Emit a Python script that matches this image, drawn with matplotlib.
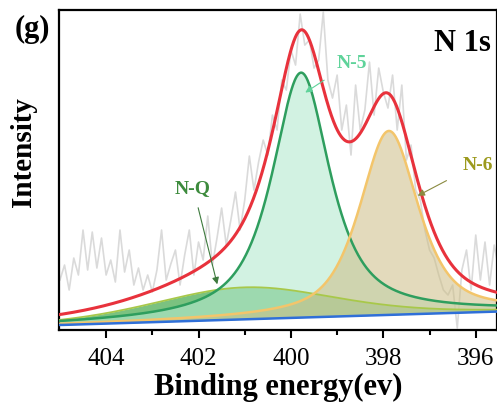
import numpy as np
import matplotlib
matplotlib.use("Agg")
import matplotlib.pyplot as plt

plt.rcParams["font.family"] = ["Liberation Serif", "DejaVu Serif"]

# --- measured N 1s spectrum (binding energy in eV, counts in arb. units) ---
raw_energy = np.arange(405.0, 395.45, -0.1)
raw_counts = [
    50, 65, 40, 72, 55, 100, 60, 98, 62, 92,
    55, 70, 48, 100, 58, 80, 45, 62, 40, 55,
    38, 60, 100, 50, 66, 80, 45, 75, 100, 55,
    88, 70, 114, 65, 92, 122, 85, 110, 138, 100,
    130, 174, 140, 168, 190, 175, 215, 200, 250, 240,
    280, 265, 316, 285, 290, 262, 270, 318, 250, 232,
    255, 200, 225, 175, 245, 200, 220, 268, 215, 262,
    238, 222, 255, 200, 245, 170, 185, 140, 130, 100,
    80, 72, 55, 40, 35, 45, 2, 60, 80, 40,
    95, 50, 88, 45, 85, 60,
]

# --- fitted components (pseudo-Voigt) ---
peak_names = ["N-Q", "N-5", "N-6"]
peak_centers = [401.0, 399.78, 397.88]
peak_heights = [32.0, 245.0, 184.0]
peak_fwhm = [4.6, 1.5, 1.5]
peak_eta = [0.3, 0.82, 0.65]

# linear background end points
bg_energy = [405.0, 395.5]
bg_level = [5.0, 18.5]

line_colors = ["#a8c84a", "#2e9e5e", "#f3c56b"]
line_widths = [1.3, 1.8, 1.8]
fill_colors = ["#4fae55", "#b5ead0", "#cdbd85"]
fill_alpha = [0.75, 0.6, 0.55]


def pseudo_voigt(x, center, height, fwhm, eta):
    hw = fwhm / 2.0
    lor = 1.0 / (1.0 + ((x - center) / hw) ** 2)
    gau = np.exp(-4.0 * np.log(2.0) * ((x - center) / fwhm) ** 2)
    return height * (eta * lor + (1.0 - eta) * gau)


x = np.linspace(405.1, 395.4, 800)
background = np.interp(x, bg_energy[::-1], bg_level[::-1])

fig = plt.figure(figsize=(4.97, 4.06), dpi=100)
ax = fig.add_axes([0.1187, 0.1847, 0.8813, 0.788])

ax.plot(raw_energy, raw_counts, color="#dadada", lw=1.2, zorder=1)

envelope = background.copy()
for i in range(len(peak_names)):
    comp = pseudo_voigt(x, peak_centers[i], peak_heights[i], peak_fwhm[i], peak_eta[i])
    envelope += comp
    ax.fill_between(x, background, background + comp, color=fill_colors[i],
                    alpha=fill_alpha[i], lw=0, zorder=2)
    ax.plot(x, background + comp, color=line_colors[i], lw=line_widths[i], zorder=3)

ax.plot(x, background, color="#2f6fd8", lw=1.8, zorder=4)
ax.plot(x, envelope, color="#e8323c", lw=2.2, zorder=5)

# component labels with arrows
ax.annotate("N-5", xy=(399.74, 236), xytext=(398.68, 268), color="#5fd39a",
            fontsize=14, fontweight="bold", ha="center", va="center", zorder=6,
            arrowprops=dict(arrowstyle="-|>", color="#5fd39a", lw=0.8,
                            mutation_scale=10, shrinkA=9))
ax.annotate("N-6", xy=(397.31, 133), xytext=(395.95, 166), color="#9c9a1e",
            fontsize=14, fontweight="bold", ha="center", va="center", zorder=6,
            arrowprops=dict(arrowstyle="-|>", color="#8a8a40", lw=0.8,
                            mutation_scale=10, shrinkA=11))
ax.annotate("N-Q", xy=(401.58, 43), xytext=(402.12, 143), color="#3d8b3d",
            fontsize=14, fontweight="bold", ha="center", va="center", zorder=6,
            arrowprops=dict(arrowstyle="-|>", color="#3d7a3d", lw=0.8,
                            mutation_scale=10, shrinkA=7))

ax.text(0.985, 0.9, "N 1s", transform=ax.transAxes, fontsize=22,
        fontweight="bold", ha="right", va="center")
fig.text(0.066, 0.928, "(g)", fontsize=22, fontweight="bold",
         ha="center", va="center")

ax.set_xlim(405.02, 395.54)
ax.set_ylim(0, 320)
ax.set_xticks([404, 402, 400, 398, 396])
ax.set_xticks([403, 401, 399, 397], minor=True)
ax.set_yticks([])
ax.tick_params(axis="x", which="major", direction="out", length=6, width=1.5,
               labelsize=18, pad=6)
ax.tick_params(axis="x", which="minor", direction="out", length=3.5, width=1.5)
for side in ["left", "bottom", "top", "right"]:
    ax.spines[side].set_linewidth(1.6)

ax.set_xlabel("Binding energy(ev)", fontsize=22, fontweight="bold", labelpad=2)
ax.set_ylabel("Intensity", fontsize=21, fontweight="bold")
ax.yaxis.set_label_coords(-0.05, 0.56)

fig.savefig("out.png", dpi=100)
